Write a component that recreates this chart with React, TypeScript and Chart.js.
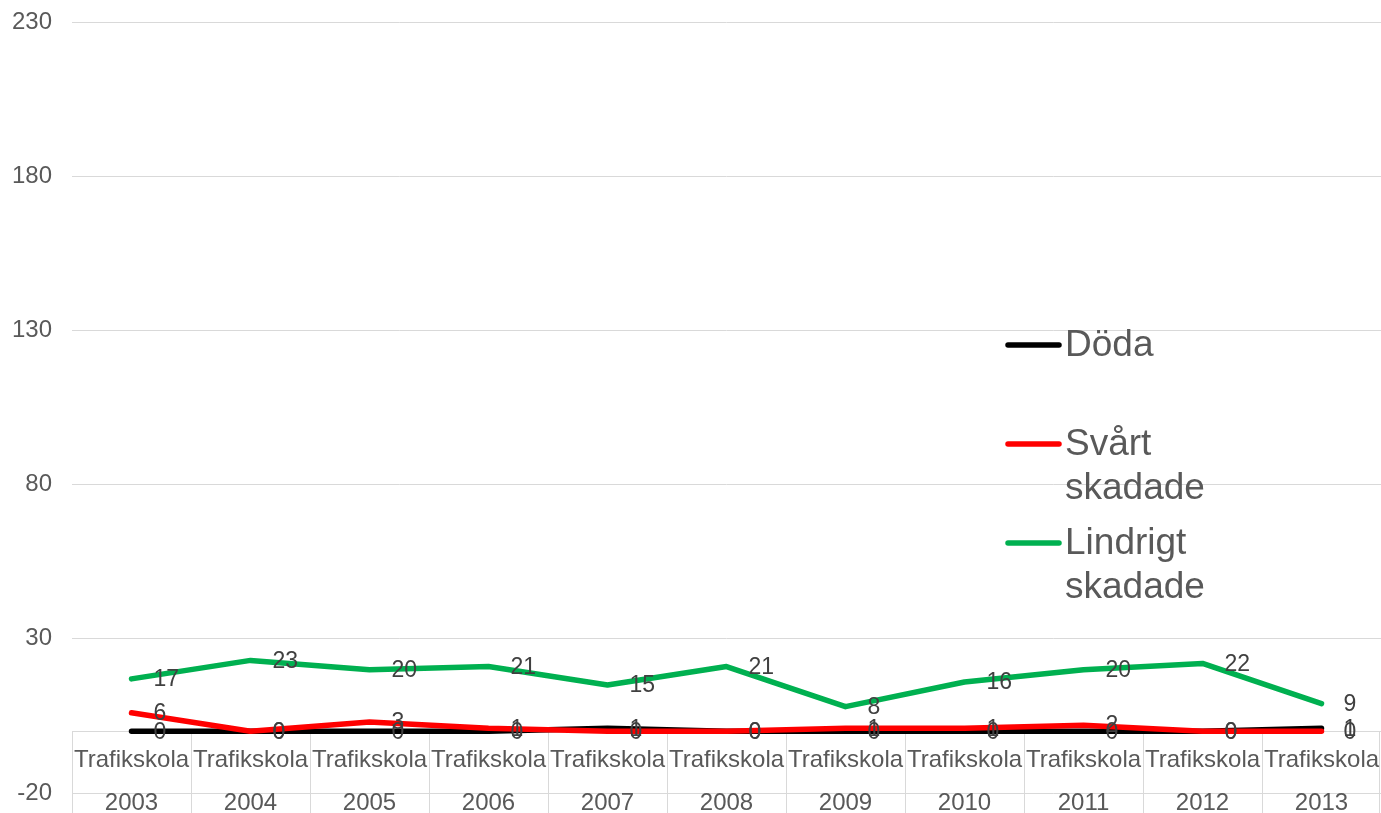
import { useEffect, useRef } from "react";
import { Chart, registerables } from "chart.js";

Chart.register(...registerables);

const years = ["2003", "2004", "2005", "2006", "2007", "2008", "2009", "2010", "2011", "2012", "2013"];
const schoolLabels = ["Trafikskola", "Trafikskola", "Trafikskola", "Trafikskola", "Trafikskola", "Trafikskola", "Trafikskola", "Trafikskola", "Trafikskola", "Trafikskola", "Trafikskola"];
const doda = [0, 0, 0, 0, 1, 0, 0, 0, 0, 0, 1];
const svart = [6, 0, 3, 1, 0, 0, 1, 1, 2, 0, 0];
const lindrigt = [17, 23, 20, 21, 15, 21, 8, 16, 20, 22, 9];
const seriesNames = ["Döda", "Svårt skadade", "Lindrigt skadade"];
const legendLines = [["Döda"], ["Svårt", "skadade"], ["Lindrigt", "skadade"]];
const yMin = -20;
const yMax = 230;
const yStep = 50;

const FONT = "'Liberation Sans', Arial, sans-serif";
const AXIS_COLOR = "#595959";
const LABEL_COLOR = "#404040";
const GRID_COLOR = "#d9d9d9";
const COLORS = ["#000000", "#ff0000", "#00b050"];

const tablePlugin = {
  id: "categoryTable",
  beforeDatasetsDraw(chart: any) {
    const { ctx, chartArea, scales } = chart;
    const x = scales.x;
    const y = scales.y;
    const n = years.length;
    const w = (chartArea.right - chartArea.left) / n;
    const y0 = y.getPixelForValue(0);
    ctx.save();
    ctx.strokeStyle = GRID_COLOR;
    ctx.lineWidth = 1;
    ctx.beginPath();
    ctx.moveTo(chartArea.left, Math.round(y0) + 0.5);
    ctx.lineTo(chartArea.right, Math.round(y0) + 0.5);
    for (let i = 0; i <= n; i++) {
      const bx = Math.round(x.getPixelForValue(0) - w / 2 + i * w) + 0.5;
      const bxc = Math.min(bx, chart.width - 1.5);
      ctx.moveTo(bxc, y0);
      ctx.lineTo(bxc, chart.height);
    }
    ctx.stroke();
    ctx.fillStyle = AXIS_COLOR;
    ctx.textAlign = "center";
    ctx.textBaseline = "middle";
    ctx.font = `24px ${FONT}`;
    for (let i = 0; i < n; i++) {
      const cx = x.getPixelForValue(i);
      ctx.fillText(schoolLabels[i], cx, y0 + 29);
      ctx.fillText(years[i], cx, chartArea.bottom + 10);
    }
    ctx.restore();
  },
};

const dataLabelPlugin = {
  id: "dataLabels",
  afterDatasetsDraw(chart: any) {
    const { ctx } = chart;
    ctx.save();
    ctx.font = `23px ${FONT}`;
    ctx.fillStyle = LABEL_COLOR;
    ctx.textAlign = "left";
    ctx.textBaseline = "middle";
    chart.data.datasets.forEach((ds: any, di: number) => {
      const meta = chart.getDatasetMeta(di);
      meta.data.forEach((pt: any, i: number) => {
        ctx.fillText(String(ds.data[i]), pt.x + 22, pt.y + 1);
      });
    });
    ctx.restore();
  },
};

const legendPlugin = {
  id: "customLegend",
  afterDraw(chart: any) {
    const { ctx } = chart;
    const itemY = [345, 444, 543];
    ctx.save();
    ctx.font = `37px ${FONT}`;
    ctx.textAlign = "left";
    ctx.textBaseline = "middle";
    legendLines.forEach((lines, i) => {
      const yy = itemY[i];
      ctx.strokeStyle = COLORS[i];
      ctx.lineWidth = 5.5;
      ctx.lineCap = "round";
      ctx.beginPath();
      ctx.moveTo(1008, yy);
      ctx.lineTo(1059, yy);
      ctx.stroke();
      ctx.fillStyle = AXIS_COLOR;
      lines.forEach((t, li) => {
        ctx.fillText(t, 1065, yy + 1 + li * 44);
      });
    });
    ctx.restore();
  },
};

export default function App() {
  const ref = useRef<HTMLCanvasElement>(null);
  useEffect(() => {
    document.body.style.margin = "0";
    if (!ref.current) return;
    const seriesData = [doda, svart, lindrigt];
    const chart = new Chart(ref.current, {
      type: "line",
      data: {
        labels: years,
        datasets: seriesData.map((d, i) => ({
          label: seriesNames[i],
          data: d,
          borderColor: COLORS[i],
          backgroundColor: COLORS[i],
          borderWidth: 5.5,
          pointRadius: 0,
          tension: 0,
          order: 3 - i,
          borderCapStyle: "round" as const,
          borderJoinStyle: "round" as const,
        })),
      },
      options: {
        animation: false,
        responsive: false,
        devicePixelRatio: 1,
        layout: { autoPadding: false, padding: { top: 22, bottom: 20, left: 0, right: 0 } },
        plugins: {
          legend: { display: false },
          tooltip: { enabled: false },
        },
        scales: {
          x: {
            type: "category",
            display: false,
            offset: true,
          },
          y: {
            min: yMin,
            max: yMax,
            afterFit: (s: any) => {
              s.width = 72;
              s.paddingTop = 0;
              s.paddingBottom = 0;
            },
            ticks: {
              stepSize: yStep,
              padding: 20,
              color: AXIS_COLOR,
              font: { family: FONT, size: 24 },
            },
            grid: { color: GRID_COLOR, lineWidth: 1, drawTicks: false },
            border: { display: false },
          },
        },
      },
      plugins: [tablePlugin, dataLabelPlugin, legendPlugin],
    });
    return () => chart.destroy();
  }, []);
  return (
    <div style={{ width: 1381, height: 813 }}>
      <canvas ref={ref} width={1381} height={813} style={{ display: "block" }} />
    </div>
  );
}
